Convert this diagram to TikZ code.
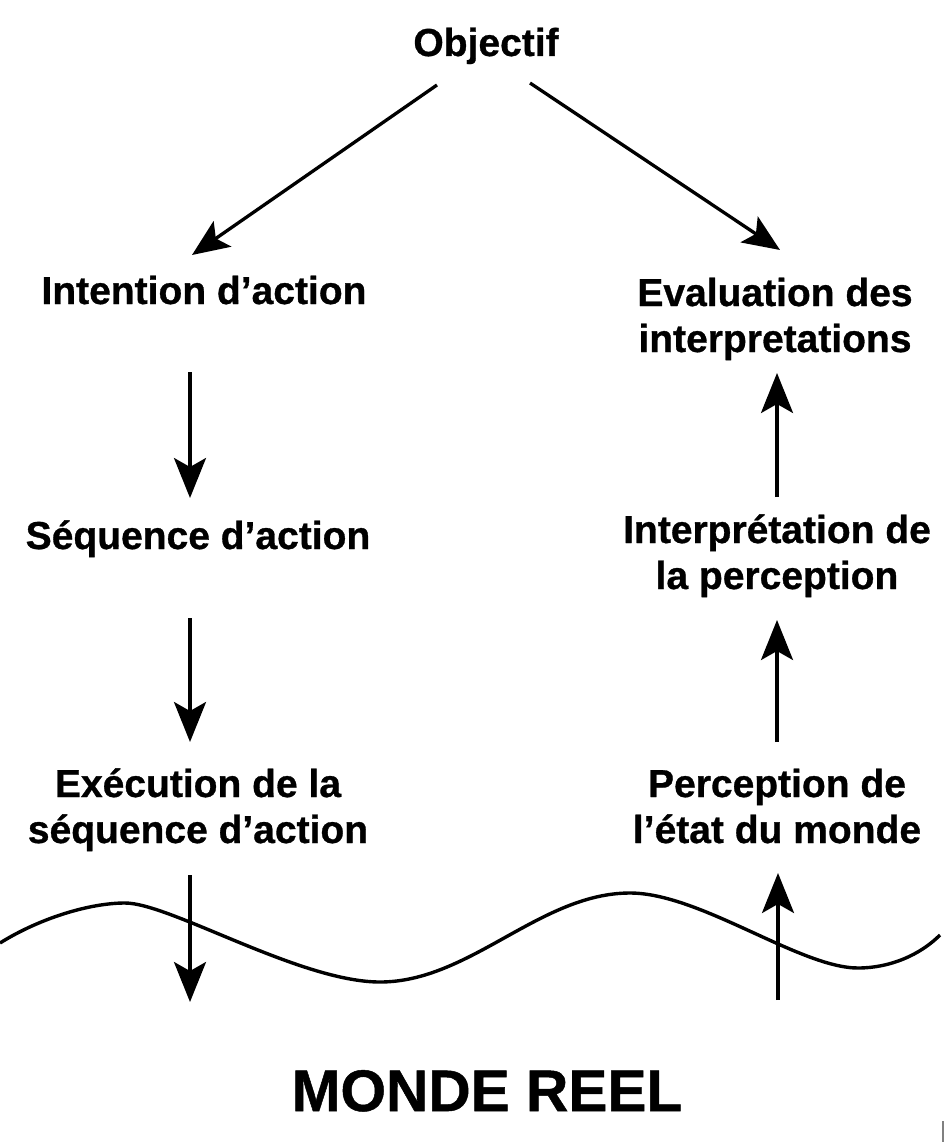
\documentclass[tikz,border=0pt]{standalone}
\usepackage{fontspec}
\setmainfont{Liberation Sans}
\newfontfamily\heavyfont{Liberation Sans Bold}[FakeBold=0.8]
\usetikzlibrary{arrows.meta}
\begin{document}
\begin{tikzpicture}[x=1pt,y=-1pt,
  lbl/.style={font=\fontsize{39}{46}\selectfont\heavyfont, align=center, inner sep=0pt, anchor=base},
  big/.style={font=\fontsize{58.6}{66}\selectfont\heavyfont, inner sep=0pt, anchor=base},
  arr/.style={line width=3.3pt, -{Stealth[length=40pt, width=32pt, inset=9pt]}},
  diag/.style={line width=3.3pt, -{Stealth[length=37pt, width=31pt, inset=8pt]}},
  wave/.style={line width=3.4pt}]
\fill[white] (0,0) rectangle (944,1142);
\useasboundingbox (0,0) rectangle (944,1142);

\node[lbl] (obj) at (486,56) {Objectif};
\node[lbl] (int) at (204,304) {Intention d’action};
\node[lbl] (eval) at (775,352) {Evaluation des\\interpretations};
\node[lbl] (seq) at (198,549) {Séquence d’action};
\node[lbl] (interp) at (777,589) {Interprétation de\\la perception};
\node[lbl] (exec) at (198,843) {Exécution de la\\séquence d’action};
\node[lbl] (perc) at (777,843) {Perception de\\l’état du monde};
\node[big] (monde) at (487,1111) {MONDE REEL};

\coordinate (wL) at (190,1002);
\coordinate (wR) at (778,1000);

\draw[wave] (0,943) .. controls (40,918) and (90,903) .. (125,903)
  .. controls (170,903) and (300,982) .. (380,982)
  .. controls (470,982) and (540,893) .. (630,893)
  .. controls (700,893) and (800,968) .. (858,968)
  .. controls (890,968) and (920,955) .. (940,935);

\draw[diag] ([shift={(-49,29)}]obj.base) -- ([shift={(-12,-49)}]int.base);
\draw[diag] ([shift={(44,27)}]obj.base) -- ([shift={(5,-102)}]eval.base);
\draw[arr] ([shift={(-14,68)}]int.base) -- ([shift={(-8,-51)}]seq.base);
\draw[arr] ([shift={(-8,69)}]seq.base) -- ([shift={(-8,-101)}]exec.base);
\draw[arr] ([shift={(-8,32)}]exec.base) -- (wL);
\draw[arr] (wR) -- ([shift={(1,30)}]perc.base);
\draw[arr] ([shift={(0,-101)}]perc.base) -- ([shift={(0,31)}]interp.base);
\draw[arr] ([shift={(0,-92)}]interp.base) -- ([shift={(2,21)}]eval.base);

\draw[gray, line width=2pt] (943,1121) -- (943,1142);
\end{tikzpicture}
\end{document}
